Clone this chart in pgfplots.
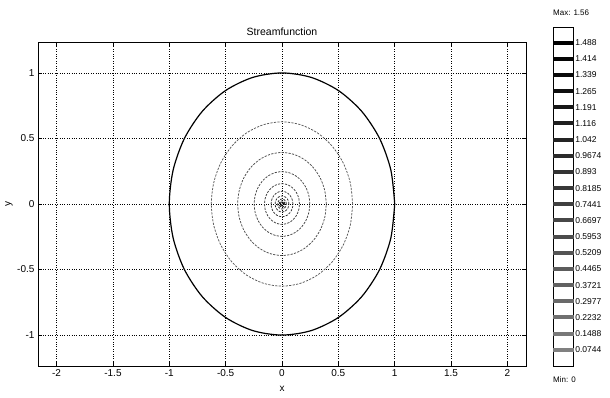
\documentclass[border=0pt]{standalone}
\usepackage{fontspec}
\setmainfont{Liberation Sans}
\usepackage{pgfplots}
\usepackage{pgfplotstable}
\pgfplotsset{compat=1.18}

% unit circle, every 15 degrees
\pgfplotstableread{
x y
1 0
0.9659 0.2588
0.8660 0.5
0.7071 0.7071
0.5 0.8660
0.2588 0.9659
0 1
-0.2588 0.9659
-0.5 0.8660
-0.7071 0.7071
-0.8660 0.5
-0.9659 0.2588
-1 0
-0.9659 -0.2588
-0.8660 -0.5
-0.7071 -0.7071
-0.5 -0.8660
-0.2588 -0.9659
0 -1
0.2588 -0.9659
0.5 -0.8660
0.7071 -0.7071
0.8660 -0.5
0.9659 -0.2588
1 0
}\unitcircle

\tikzset{cont/.style={smooth, line width=0.75pt, dash pattern=on 2.2pt off 1.3pt}}

\begin{document}
\begin{tikzpicture}[x=1pt,y=1pt]
\path[use as bounding box] (0,0) rectangle (610,397);
\begin{axis}[
  at={(38pt,31pt)}, anchor=south west,
  scale only axis, width=488pt, height=324pt,
  xmin=-2.165, xmax=2.165, ymin=-1.236, ymax=1.236,
  xtick={-2,-1.5,-1,-0.5,0,0.5,1,1.5,2},
  xticklabels={-2,-1.5,-1,-0.5,0,0.5,1,1.5,2},
  ytick={-1,-0.5,0,0.5,1},
  yticklabels={-1,-0.5,0,0.5,1},
  grid=major, major grid style={black, dotted, line width=0.5pt},
  tick align=inside, major tick length=4pt,
  axis line style={line width=0.8pt},
  tick style={black, line width=0.6pt},
  ticklabel style={font=\fontsize{10}{12}\selectfont},
  every axis title/.style={at={(axis description cs:0.5,1)}, anchor=center, yshift=10pt, font=\fontsize{10.5}{12}\selectfont},
  every axis x label/.style={at={(axis description cs:0.5,0)}, anchor=center, yshift=-23pt, font=\fontsize{10}{12}\selectfont},
  every axis y label/.style={at={(axis description cs:-0.0594,0.5)}, anchor=center, rotate=90, font=\fontsize{10}{12}\selectfont},
  title={Streamfunction}, xlabel={x}, ylabel={y},
]
\addplot[black, line width=1.2pt, smooth] table {\unitcircle};
\addplot[cont, black!65] table[x expr=0.627*\thisrow{x}, y expr=0.627*\thisrow{y}] {\unitcircle};
\addplot[cont, black!70] table[x expr=0.393*\thisrow{x}, y expr=0.393*\thisrow{y}] {\unitcircle};
\addplot[cont, black!74] table[x expr=0.247*\thisrow{x}, y expr=0.247*\thisrow{y}] {\unitcircle};
\addplot[cont, black!78] table[x expr=0.155*\thisrow{x}, y expr=0.155*\thisrow{y}] {\unitcircle};
\addplot[cont, black!82] table[x expr=0.097*\thisrow{x}, y expr=0.097*\thisrow{y}] {\unitcircle};
\addplot[cont, black!86] table[x expr=0.061*\thisrow{x}, y expr=0.061*\thisrow{y}] {\unitcircle};
\addplot[cont, black!90] table[x expr=0.038*\thisrow{x}, y expr=0.038*\thisrow{y}] {\unitcircle};
\addplot[cont, black!94] table[x expr=0.024*\thisrow{x}, y expr=0.024*\thisrow{y}] {\unitcircle};
\addplot[cont, black!97] table[x expr=0.015*\thisrow{x}, y expr=0.015*\thisrow{y}] {\unitcircle};
\addplot[cont, black] table[x expr=0.009*\thisrow{x}, y expr=0.009*\thisrow{y}] {\unitcircle};
\end{axis}

\begin{axis}[
  at={(553pt,31pt)}, anchor=south west,
  scale only axis, width=20pt, height=339pt,
  xmin=0, xmax=1, ymin=0, ymax=1.56,
  xtick=\empty,
  ytick={0.0744,0.1488,0.2232,0.2977,0.3721,0.4465,0.5209,0.5953,0.6697,0.7441,0.8185,0.893,0.9674,1.042,1.116,1.191,1.265,1.339,1.414,1.488},
  yticklabels={0.0744,0.1488,0.2232,0.2977,0.3721,0.4465,0.5209,0.5953,0.6697,0.7441,0.8185,0.893,0.9674,1.042,1.116,1.191,1.265,1.339,1.414,1.488},
  yticklabel pos=right,
  ytick style={draw=none},
  yticklabel style={font=\fontsize{8.5}{10}\selectfont, xshift=-1.2pt},
  axis line style={line width=0.8pt},
  clip=false,
]
\addplot[black!50, line width=4pt] coordinates {(0,0.0744)(1.05,0.0744)};
\addplot[black!53, line width=4pt] coordinates {(0,0.1488)(1.05,0.1488)};
\addplot[black!56, line width=4pt] coordinates {(0,0.2232)(1.05,0.2232)};
\addplot[black!59, line width=4pt] coordinates {(0,0.2977)(1.05,0.2977)};
\addplot[black!62, line width=4pt] coordinates {(0,0.3721)(1.05,0.3721)};
\addplot[black!64, line width=4pt] coordinates {(0,0.4465)(1.05,0.4465)};
\addplot[black!67, line width=4pt] coordinates {(0,0.5209)(1.05,0.5209)};
\addplot[black!70, line width=4pt] coordinates {(0,0.5953)(1.05,0.5953)};
\addplot[black!72, line width=4pt] coordinates {(0,0.6697)(1.05,0.6697)};
\addplot[black!75, line width=4pt] coordinates {(0,0.7441)(1.05,0.7441)};
\addplot[black!78, line width=4pt] coordinates {(0,0.8185)(1.05,0.8185)};
\addplot[black!80, line width=4pt] coordinates {(0,0.893)(1.05,0.893)};
\addplot[black!83, line width=4pt] coordinates {(0,0.9674)(1.05,0.9674)};
\addplot[black!86, line width=4pt] coordinates {(0,1.042)(1.05,1.042)};
\addplot[black!88, line width=4pt] coordinates {(0,1.116)(1.05,1.116)};
\addplot[black!91, line width=4pt] coordinates {(0,1.191)(1.05,1.191)};
\addplot[black!94, line width=4pt] coordinates {(0,1.265)(1.05,1.265)};
\addplot[black!96, line width=4pt] coordinates {(0,1.339)(1.05,1.339)};
\addplot[black!98, line width=4pt] coordinates {(0,1.414)(1.05,1.414)};
\addplot[black, line width=4pt] coordinates {(0,1.488)(1.05,1.488)};
\end{axis}
\node[anchor=west, inner sep=0pt, font=\fontsize{8}{9}\selectfont] at (553,384) {Max: 1.56};
\node[anchor=west, inner sep=0pt, font=\fontsize{8}{9}\selectfont] at (553,17) {Min: 0};
\end{tikzpicture}
\end{document}
